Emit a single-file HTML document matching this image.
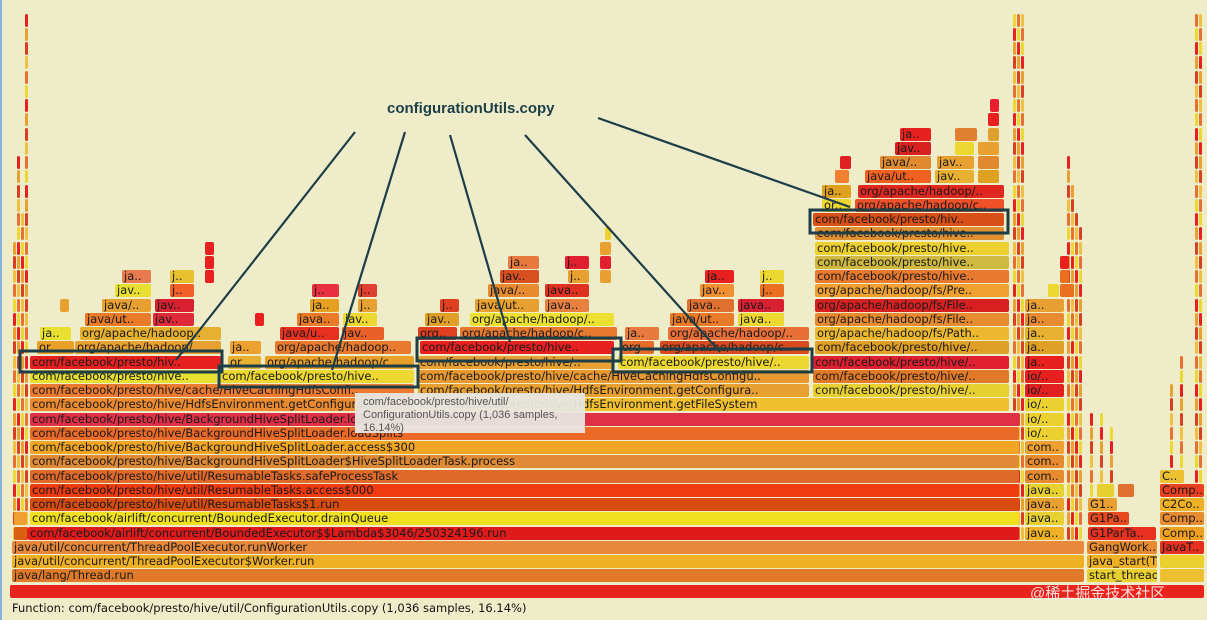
<!DOCTYPE html>
<html><head><meta charset="utf-8">
<style>
html,body{margin:0;padding:0}
body{width:1207px;height:620px;overflow:hidden;background:#efedc9;position:relative;font-family:"DejaVu Sans","Liberation Sans",sans-serif}
#fg{position:absolute;left:0;top:0;width:1207px;height:620px}
.f{position:absolute;height:13px;line-height:13px;font-size:11.5px;color:#1a1a1a;white-space:nowrap;overflow:hidden;border-radius:2px;padding-left:2px;box-sizing:border-box}
#edge{position:absolute;left:0;top:0;width:2px;height:620px;background:#8ab4e0}
#footer{position:absolute;left:12px;top:601px;font-size:11.5px;color:#111;white-space:nowrap}
#tip{position:absolute;left:355px;top:393px;width:230px;height:40px;background:rgba(232,230,226,0.95);color:#555;font-size:11px;line-height:13px;padding:3px 8px;box-sizing:border-box;font-family:"Liberation Sans",sans-serif}
#wm{position:absolute;left:1030px;top:582px;font-size:15px;color:rgba(255,255,255,0.85);font-family:"Liberation Sans","Noto Sans CJK SC",sans-serif}
svg{position:absolute;left:0;top:0}
</style></head>
<body>
<div id="edge"></div>
<div id="fg"></div>
<div id="tip">com/facebook/presto/hive/util/<br>ConfigurationUtils.copy (1,036 samples,<br>16.14%)</div>
<svg width="1207" height="620">
 <g stroke="#1d3d47" stroke-width="2.2" fill="none">
  <line x1="355" y1="132" x2="176" y2="360"/>
  <line x1="405" y1="132" x2="332" y2="370"/>
  <line x1="450" y1="135" x2="510" y2="342"/>
  <line x1="525" y1="135" x2="720" y2="352"/>
  <line x1="598" y1="118" x2="850" y2="207"/>
  <rect x="20" y="351" width="202" height="21" stroke-width="3"/>
  <rect x="219" y="366" width="199" height="21" stroke-width="3"/>
  <rect x="417" y="338" width="204" height="23" stroke-width="3"/>
  <rect x="613" y="349" width="199" height="23" stroke-width="3"/>
  <rect x="810" y="210" width="198" height="23" stroke-width="3"/>
 </g>
 <text x="387" y="113" font-family="Liberation Sans, sans-serif" font-weight="bold" font-size="15" fill="#1d3d47">configurationUtils.copy</text>
</svg>
<div id="footer">Function: com/facebook/presto/hive/util/ConfigurationUtils.copy (1,036 samples, 16.14%)</div>
<div id="wm">@稀土掘金技术社区</div>
<script>
// frames: [stack depth, start offset, end offset, frame label, color]
const frames = [
[0,10,1205,'','#e8241c'],
[1,12,1085,'java/lang/Thread.run','#e07a28'],[1,1087,1158,'start_thread','#e8d030'],[1,1160,1205,'','#ecc030'],
[2,12,1085,'java/util/concurrent/ThreadPoolExecutor$Worker.run','#f0b025'],[2,1087,1158,'java_start(Thre..','#f0b025'],[2,1160,1205,'','#ecd030'],
[3,12,1085,'java/util/concurrent/ThreadPoolExecutor.runWorker','#e8883a'],[3,1087,1158,'GangWork..','#e88a30'],[3,1160,1205,'JavaT..','#e83020'],
[4,14,28,'','#d86010'],[4,28,1020,'com/facebook/airlift/concurrent/BoundedExecutor$$Lambda$3046/250324196.run','#e01a1a'],[4,1025,1065,'java..','#f0b025'],[4,1088,1157,'G1ParTa..','#e83020'],[4,1160,1205,'Comp..','#f0a020'],
[5,14,28,'','#f0a030'],[5,30,1020,'com/facebook/airlift/concurrent/BoundedExecutor.drainQueue','#f0e020'],[5,1025,1065,'java..','#e8d030'],[5,1088,1130,'G1Pa..','#e84a20'],[5,1160,1205,'Comp..','#e88a30'],
[6,30,1020,'com/facebook/presto/hive/util/ResumableTasks$1.run','#d84c10'],[6,1025,1065,'java..','#e8a030'],[6,1088,1118,'G1..','#e8a030'],[6,1160,1205,'C2Co..','#f0b025'],
[7,30,1020,'com/facebook/presto/hive/util/ResumableTasks.access$000','#f03a10'],[7,1025,1065,'java..','#e8d030'],[7,1097,1115,'','#e8d030'],[7,1118,1135,'','#e07030'],[7,1160,1205,'Comp..','#e84020'],
[8,30,1020,'com/facebook/presto/hive/util/ResumableTasks.safeProcessTask','#e06a2a'],[8,1025,1065,'com..','#e88a30'],[8,1160,1185,'C..','#ecc030'],
[9,30,1020,'com/facebook/presto/hive/BackgroundHiveSplitLoader$HiveSplitLoaderTask.process','#e08a35'],[9,1025,1065,'com..','#e88a30'],
[10,30,1020,'com/facebook/presto/hive/BackgroundHiveSplitLoader.access$300','#f0a525'],[10,1025,1065,'com..','#f0a030'],
[11,30,1020,'com/facebook/presto/hive/BackgroundHiveSplitLoader.loadSplits','#ec6a28'],[11,1025,1065,'io/..','#ecd030'],
[12,30,1020,'com/facebook/presto/hive/BackgroundHiveSplitLoader.loadPartition','#e03048'],[12,1025,1065,'io/..','#ecd030'],
[13,30,415,'com/facebook/presto/hive/HdfsEnvironment.getConfiguration','#eb8a30'],[13,418,1010,'com/facebook/presto/hive/HdfsEnvironment.getFileSystem','#f0c030'],[13,1025,1065,'io/..','#ecd030'],
[14,30,415,'com/facebook/presto/hive/cache/HiveCachingHdfsConfi..','#ec7a30'],[14,418,810,'com/facebook/presto/hive/HdfsEnvironment.getConfigura..','#e8a030'],[14,813,1010,'com/facebook/presto/hive/..','#e8d030'],[14,1025,1065,'io/..','#e02020'],
[15,30,218,'com/facebook/presto/hive..','#e8e030'],[15,220,415,'com/facebook/presto/hive..','#ecd830'],[15,418,810,'com/facebook/presto/hive/cache/HiveCachingHdfsConfigu..','#e89830'],[15,813,1010,'com/facebook/presto/hive/..','#e07a28'],[15,1025,1065,'io/..','#e82020'],
[16,30,222,'com/facebook/presto/hiv..','#e82020'],[16,228,262,'or..','#e8b030'],[16,265,415,'org/apache/hadoop/c..','#e8a028'],[16,418,615,'com/facebook/presto/hive/..','#e8a030'],[16,618,810,'com/facebook/presto/hive/..','#ecd830'],[16,813,1010,'com/facebook/presto/hive/..','#e02030'],[16,1025,1065,'ja..','#e82020'],
[17,37,75,'or..','#e8a028'],[17,75,222,'org/apache/hadoop/..','#e8a030'],[17,230,262,'ja..','#eca030'],[17,275,412,'org/apache/hadoop..','#e87a30'],[17,420,615,'com/facebook/presto/hive..','#e82020'],[17,620,655,'org','#e86a28'],[17,660,810,'org/apache/hadoop/c..','#d84a20'],[17,815,1010,'com/facebook/presto/hive/..','#e0a025'],[17,1025,1065,'ja..','#e0a025'],
[18,40,72,'ja..','#e8e030'],[18,80,222,'org/apache/hadoop..','#e8b030'],[18,280,340,'java/u..','#e83020'],[18,342,385,'jav..','#e86028'],[18,418,458,'org..','#e04020'],[18,460,618,'org/apache/hadoop/c..','#e87a30'],[18,625,660,'ja..','#e87a40'],[18,668,810,'org/apache/hadoop/..','#e87038'],[18,815,1010,'org/apache/hadoop/fs/Path..','#ecb830'],[18,1025,1065,'ja..','#e8b030'],
[19,85,152,'java/ut..','#e87a28'],[19,153,195,'jav..','#e02a3a'],[19,255,265,'','#e82020'],[19,297,340,'java..','#e87a28'],[19,343,378,'jav..','#ecd830'],[19,425,460,'jav..','#e0a028'],[19,470,615,'org/apache/hadoop/..','#ece030'],[19,670,735,'java/ut..','#e87a28'],[19,738,785,'java..','#ecd830'],[19,815,1010,'org/apache/hadoop/fs/File..','#e88a30'],[19,1025,1065,'ja..','#e88a30'],
[20,60,70,'','#e8a030'],[20,102,152,'java/..','#e8a030'],[20,155,195,'jav..','#d82030'],[20,310,340,'ja..','#e8a020'],[20,358,378,'j..','#e8a030'],[20,440,460,'j..','#e04020'],[20,475,540,'java/ut..','#e8a030'],[20,545,590,'java..','#e88040'],[20,687,735,'java..','#e07030'],[20,738,785,'java..','#d82030'],[20,815,1010,'org/apache/hadoop/fs/File..','#d82020'],[20,1025,1065,'ja..','#e8a030'],
[21,115,152,'jav..','#e8e030'],[21,170,195,'j..','#f06028'],[21,312,340,'j..','#e83040'],[21,358,378,'j..','#e04030'],[21,488,540,'java/..','#e88a30'],[21,545,590,'java..','#e03020'],[21,700,735,'jav..','#f09030'],[21,760,785,'j..','#e87020'],[21,815,1010,'org/apache/hadoop/fs/Pre..','#f0a030'],[21,1048,1060,'','#ecd830'],[21,1060,1075,'','#e87020'],
[22,122,152,'ja..','#e87a50'],[22,170,195,'j..','#e8c030'],[22,205,215,'','#e82020'],[22,500,540,'jav..','#d85020'],[22,568,590,'j..','#e8a030'],[22,600,612,'','#e8a030'],[22,705,735,'ja..','#e82020'],[22,760,785,'j..','#ecd830'],[22,815,1010,'com/facebook/presto/hive..','#e87a30'],[22,1060,1070,'','#e87020'],
[23,205,215,'','#e82020'],[23,508,540,'ja..','#e87a40'],[23,565,590,'j..','#e02030'],[23,600,612,'','#e02030'],[23,815,1010,'com/facebook/presto/hive..','#cfb940'],[23,1060,1070,'','#e82020'],
[24,205,215,'','#e82020'],[24,600,612,'','#e8a030'],[24,815,1010,'com/facebook/presto/hive..','#ecd030'],
[25,605,612,'','#ecd030'],[25,815,1005,'com/facebook/presto/hive..','#e09030'],
[26,813,1005,'com/facebook/presto/hiv..','#d85018'],
[27,822,852,'or..','#ecd830'],[27,855,1005,'org/apache/hadoop/c..','#f05028'],
[28,822,852,'ja..','#e0a020'],[28,858,1005,'org/apache/hadoop/..','#e02820'],
[29,835,850,'','#f08030'],[29,865,932,'java/ut..','#f06020'],[29,935,975,'jav..','#e8b030'],[29,978,1000,'','#e0a020'],
[30,840,852,'','#e02020'],[30,880,932,'java/..','#e08a30'],[30,937,975,'jav..','#e8a030'],[30,978,1000,'','#e08a30'],
[31,895,932,'jav..','#d82020'],[31,955,975,'','#ecd830'],[31,978,1000,'','#e8a030'],
[32,900,932,'ja..','#e82020'],[32,955,978,'','#e08030'],[32,988,1000,'','#e0a030'],
[33,988,1000,'','#e82020'],[34,990,1000,'','#e82030']
];
// thin stripe columns: [x, width, topDepth]
const stripes = [[13,3,24],[17,3,30],[21,3,26],[25,3,40],[1013,3,40],[1017,3,40],[1021,3,40],[1067,3,30],[1071,3,28],[1075,3,26],[1079,3,25],[1195,3,40],[1199,3,40],[1090,3,12],[1100,3,12],[1110,3,11],[1170,3,14],[1180,3,16]];
const stripeColors = ['#e8a030','#e82020','#ecd830','#e87030','#f0c040','#d84020'];
const fg = document.getElementById('fg');
function rowTop(d){ return d===0 ? 585 : 583.5 - 14.25*d; }
function addBar(d,x0,x1,label,color,name,h){
  const el = document.createElement('div');
  el.className='f';
  el.style.left=x0+'px';
  el.style.top=rowTop(d)+'px';
  el.style.width=Math.max(1,x1-x0-1)+'px';
  if(h) el.style.height=h+'px';
  el.style.background=color;
  el.textContent=label;
  
  
  fg.appendChild(el);
}
stripes.forEach(function(s,i){
  for(let d=4; d<=s[2]; d++){
    addBar(d,s[0],s[0]+s[1]+1,'',stripeColors[(i+d)%stripeColors.length],'stack-stripe',13);
  }
});
frames.forEach(function(f){
  addBar(f[0],f[1],f[2],f[3],f[4],'stack-frame');
});
</script>
</body></html>
